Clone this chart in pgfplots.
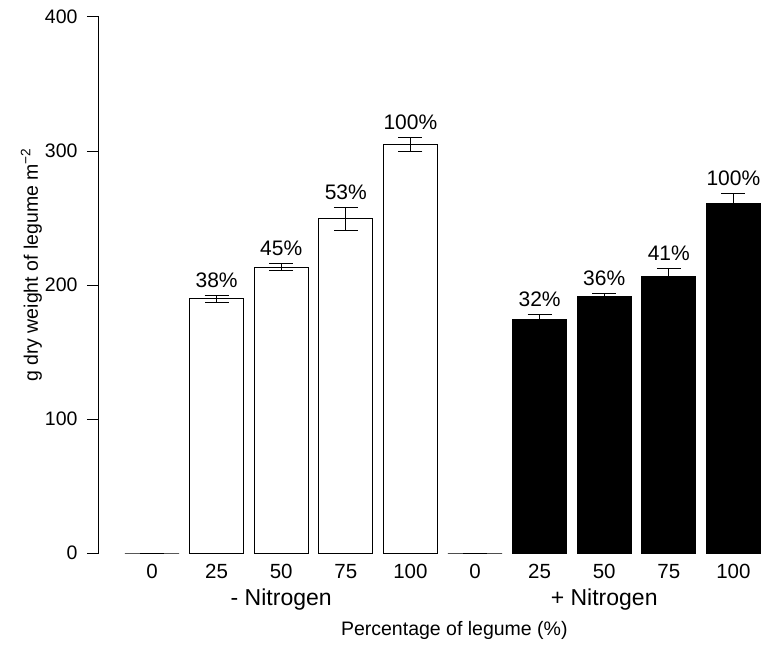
\documentclass[border=0pt]{standalone}
\usepackage{fontspec}
\setmainfont{Liberation Sans}
\usepackage{pgfplots}
\usepackage{pgfplotstable}
\pgfplotsset{compat=1.18}

% x = bar position, y = mean dry weight, e = standard error, p = legume share (%)
\pgfplotstableread{
x y e p
0 0 0 0
1 189.6 2.8 38
2 213.4 2.7 45
3 249.3 8.4 53
4 305.0 5.2 100
}\minusN
\pgfplotstableread{
x y e p
5 0 0 0
6 174.6 3.2 32
7 191.3 2.2 36
8 206.2 6.0 41
9 261.0 7.2 100
}\plusN

\begin{document}
\begin{tikzpicture}
\begin{axis}[
  scale only axis,
  width=666.7pt, height=536pt,
  xmin=-0.8204, xmax=9.5,
  ymin=0, ymax=400,
  axis lines*=left,
  x axis line style={draw=none},
  y axis line style={line width=1pt},
  clip=false,
  tick align=outside,
  major tick length=12pt,
  ytick={0,100,200,300,400},
  ytick style={line width=1pt, black},
  yticklabel style={font=\fontsize{19.5}{23}\selectfont, xshift=-6pt},
  xtick={0,...,9},
  xticklabels={0,25,50,75,100,0,25,50,75,100},
  xtick style={draw=none},
  xticklabel style={font=\fontsize{20.5}{24}\selectfont, anchor=base, yshift=-13pt},
  /pgf/number format/assume math mode=true,
  error bars/error bar style={line width=1pt, black},
  error bars/error mark options={line width=1pt, black, mark size=12pt, rotate=90},
]
% - Nitrogen: white bars
\addplot[ybar, bar width=0.836, bar shift=0pt, draw=black, fill=white, line width=1pt,
  error bars/.cd, y dir=both, y explicit]
  table[x=x, y=y, y error=e] {\minusN};
% + Nitrogen: black bars
\addplot[ybar, bar width=0.836, bar shift=0pt, draw=black, fill=black, line width=1pt,
  error bars/.cd, y dir=both, y explicit]
  table[x=x, y=y, y error=e] {\plusN};
% share of legume written above each error bar
\addplot[draw=none, mark=none, point meta=explicit symbolic,
  nodes near coords={\pgfplotspointmeta\%},
  every node near coord/.style={anchor=base, yshift=8pt, inner sep=0pt,
    font=\fontsize{21}{25}\selectfont},
  skip coords between index={0}{1}]
  table[x=x, y expr=\thisrow{y}+\thisrow{e}, meta=p] {\minusN};
\addplot[draw=none, mark=none, point meta=explicit symbolic,
  nodes near coords={\pgfplotspointmeta\%},
  every node near coord/.style={anchor=base, yshift=8pt, inner sep=0pt,
    font=\fontsize{21}{25}\selectfont},
  skip coords between index={0}{1}]
  table[x=x, y expr=\thisrow{y}+\thisrow{e}, meta=p] {\plusN};
% group names and axis titles
\node[anchor=base, font=\fontsize{23}{27}\selectfont, yshift=-52pt] at (axis cs:2,0) {- Nitrogen};
\node[anchor=base, font=\fontsize{23}{27}\selectfont, yshift=-52pt] at (axis cs:7,0) {+ Nitrogen};
\node[anchor=base, font=\fontsize{19.5}{23}\selectfont, yshift=-82pt] at (axis cs:4.68,0) {Percentage of legume (\%)};
\node[xshift=-61pt, rotate=90, anchor=base, font=\fontsize{19.5}{23}\selectfont] at (axis cs:-0.8204,215) {g dry weight of legume m\textsuperscript{−2}};
\end{axis}
\pgfresetboundingbox
\path[use as bounding box] (-99pt,-101pt) rectangle (674pt,553pt);
\end{tikzpicture}
\end{document}
